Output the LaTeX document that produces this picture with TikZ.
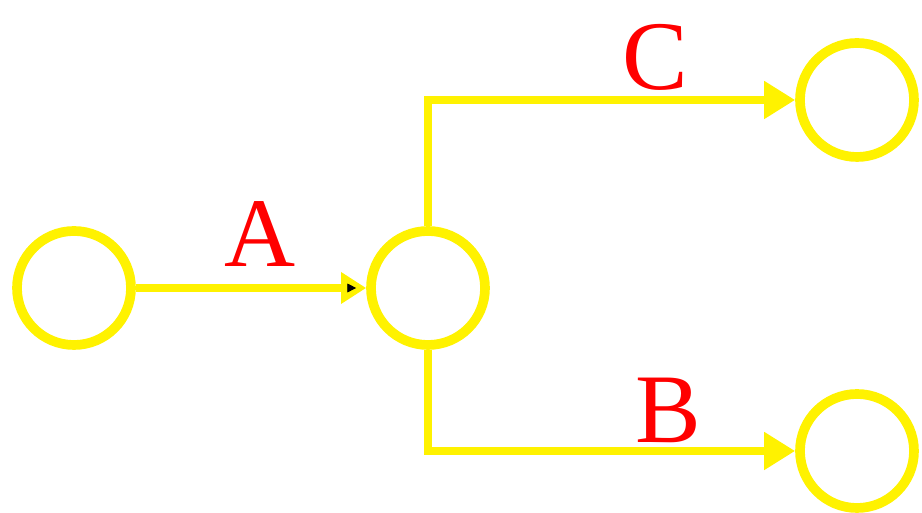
\documentclass[tikz,border=0pt]{standalone}
\usepackage{fontspec}
\setmainfont{Liberation Serif}
\usetikzlibrary{arrows.meta}

\tikzset{
  state/.style={circle, draw=yellow, line width=5.5pt, minimum size=2.28cm, inner sep=0pt},
  wire/.style={draw=yellow, line width=4.6pt},
  bigtip/.style={-{Triangle[length=0.62cm, width=0.72cm]}},
  smalltip/.style={-{Triangle[length=0.5cm, width=0.6cm]}},
  blacktip/.style={shorten >=0.2cm, -{Triangle[black, length=5pt, width=5pt, line width=0.4pt]}},
  tag/.style={text=red, font=\fontsize{56}{60}\selectfont},
}

\begin{document}
\begin{tikzpicture}
\useasboundingbox (0,0) rectangle (18.44,10.26);
% the four states
\node[state] (start) at (1.48,4.50) {};
\node[state] (fork)  at (8.56,4.50) {};
\node[state] (upper) at (17.14,8.26) {};
\node[state] (lower) at (17.14,1.24) {};
% transitions
\draw[wire, smalltip] (start) -- (fork);
\draw[wire, blacktip] (start) -- (fork);
\draw[wire, bigtip] (fork.north) |- (upper.west);
\draw[wire, bigtip] (fork.south) |- (lower.west);
% labels
\node[tag] (labA) at (5.20,5.58) {A};
\node[tag] (labC) at (13.10,9.12) {C};
\node[tag] (labB) at (13.36,2.06) {B};
\end{tikzpicture}
\end{document}
